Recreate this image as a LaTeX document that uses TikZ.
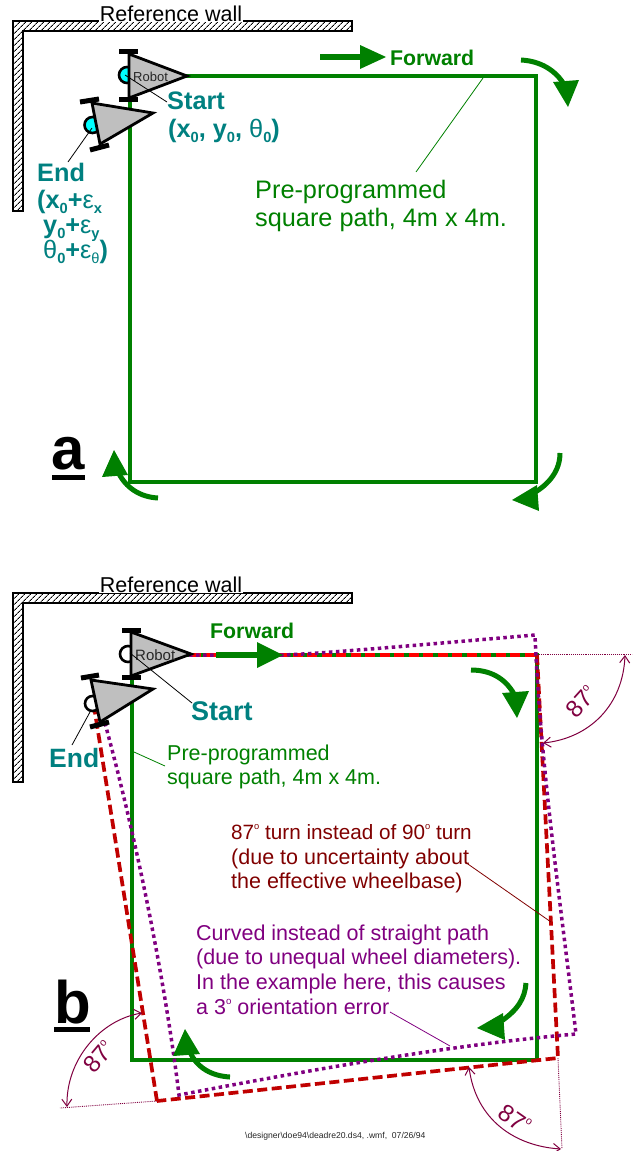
\documentclass[tikz,border=0pt]{standalone}
\usepackage{fontspec}
\setmainfont{Liberation Sans}
\usetikzlibrary{patterns,patterns.meta,arrows.meta}
\definecolor{pgreen}{HTML}{008000}
\definecolor{pteal}{HTML}{008080}
\definecolor{pcyan}{HTML}{00FFFF}
\definecolor{pmaroon}{HTML}{800000}
\definecolor{ppurple}{HTML}{800080}
\definecolor{pred}{HTML}{C00000}
\definecolor{pbright}{HTML}{FF0000}
\definecolor{parc}{HTML}{800040}
\newcommand{\lo}[1]{\raisebox{-.22em}{\scalebox{.58}{#1}}}
\newcommand{\hi}[1]{\raisebox{.45em}{\scalebox{.45}{#1}}}
\tikzset{
  wall/.style={draw=black,line width=1.2pt,pattern={Lines[angle=45,distance=4pt,line width=1pt]}},
  walllabel/.style={fill=white,inner xsep=1pt,inner ysep=1pt,font=\fontsize{21.5}{24}\selectfont,anchor=base},
  path/.style={draw=pgreen,line width=3.3pt,line join=miter},
  fwdhead/.style={fill=pgreen,draw=none},
  fwdshaft/.style={draw=pgreen,line width=5.5pt},
  turn/.style={draw=pgreen,line width=5pt},
  body/.style={draw=black,line width=2.8pt,fill=black!25,line join=miter},
  wheel/.style={draw=black,line width=5pt},
  cast/.style={draw=black,line width=2.6pt},
  leader/.style={draw=black,line width=.8pt},
  txt/.style={anchor=base west,inner sep=0pt,align=left},
  big/.style={font=\fontsize{25.3}{28}\selectfont},
  mid/.style={font=\fontsize{21.5}{24}\selectfont},
  fwd/.style={txt,text=pgreen,font=\bfseries\fontsize{21.3}{24}\selectfont},
  tealb/.style={txt,text=pteal,font=\bfseries\fontsize{25.3}{28}\selectfont},
  letter/.style={txt,font=\bfseries\fontsize{60}{60}\selectfont},
  ul/.style={draw=black,line width=5pt},
  reddash/.style={draw=pred,line width=3.7pt,dash pattern=on 10pt off 4.5pt,line join=miter},
  redtop/.style={draw=pbright,line width=3.5pt,dash pattern=on 10pt off 4.5pt},
  purpledot/.style={draw=ppurple,line width=3.5pt,dash pattern=on 3.5pt off 3.5pt},
  thinline/.style={draw=parc,line width=.9pt,densely dotted},
  anglearc/.style={draw=parc,line width=1pt,{Straight Barb[length=7pt,width=10pt]}-{Straight Barb[length=7pt,width=10pt]}},
  angletxt/.style={text=parc,inner sep=0pt,font=\fontsize{24}{26}\selectfont},
}
\begin{document}
\begin{tikzpicture}[x=1pt,y=-1pt]
\useasboundingbox (0,0) rectangle (632,1151);
% ---------- panel a
\path[wall] (13,21) -- (352,21) -- (352,31) -- (23,31) -- (23,211) -- (13,211) -- cycle;
\node[walllabel] (wallA) at (171,21) {Reference wall};
\coordinate (a1) at (130,76); \coordinate (a2) at (536,76);
\coordinate (a3) at (536,482); \coordinate (a4) at (130,482);
\draw[path] (a1) -- (a2) -- (a3) -- (a4) -- cycle;
\draw[fwdshaft] (320,57) -- (362,57);
\fill[fwdhead] (360,45) -- (386,57) -- (360,69) -- cycle;
\node[fwd] (fwdA) at (390,65) {Forward};
\coordinate (pgA) at (483,78); \coordinate (pgB) at (416,172);
\draw[draw=pgreen,line width=.8pt] (pgA) -- (pgB);
\node[txt,big,text=pgreen] (pgtextA) at (255,198) {Pre-programmed};
\node[txt,big,text=pgreen] (pgtextB) at (255,226) {square path, 4m x 4m.};
\draw[turn] (521,60) .. controls (540,61) and (556,70) .. (565,86);
\fill[fwdhead] (553,82) -- (579,80) -- (568,107) -- cycle;
\draw[turn] (560,453) .. controls (560,470) and (550,484) .. (532,494);
\fill[fwdhead] (512,500) -- (537,485) -- (539,511) -- cycle;
\draw[turn] (158,498) .. controls (140,497) and (126,488) .. (118,472);
\fill[fwdhead] (102,477) -- (128,475) -- (114,450) -- cycle;
% robots a
\draw[cast,fill=pcyan] (127,75) circle (8);
\draw[body] (129,54) -- (187,76) -- (129,98) -- cycle;
\draw[wheel] (119,51) -- (138,51);
\draw[wheel] (119,99) -- (138,99);
\node[txt,font=\fontsize{13}{15}\selectfont,text=black!85] (robA) at (133,81) {Robot};
\draw[cast,fill=pcyan] (92.5,125) circle (8);
\draw[body] (92,103) -- (153,113) -- (100,144) -- cycle;
\draw[wheel] (80,102) -- (99,99);
\draw[wheel] (90,150) -- (109,145);
\coordinate (sa) at (125,75); \coordinate (sb) at (167,102);
\draw[leader] (sa) -- (sb);
\coordinate (ea) at (92,128); \coordinate (eb) at (68,162);
\draw[leader] (ea) -- (eb);
\node[tealb] (startA) at (167,109) {Start};
\node[tealb] (coordA) at (168,137) {(x\lo{0}, y\lo{0}, {\mdseries θ}\lo{0})};
\node[tealb] (endA) at (37,181) {End};
\node[tealb] (e1) at (37,208) {(x\lo{0}+{\mdseries ε}\lo{x}};
\node[tealb] (e2) at (43,233) {y\lo{0}+{\mdseries ε}\lo{y}};
\node[tealb] (e3) at (43,258) {{\mdseries θ}\lo{0}+{\mdseries ε}\lo{{\mdseries θ}})};
\node[letter] (la) at (51,469) {a};
\coordinate (ula) at (52,477); \coordinate (ulb) at (85,477);
\draw[ul] (ula) -- (ulb);
% ---------- panel b
\path[wall] (13,593) -- (352,593) -- (352,603) -- (23,603) -- (23,782) -- (13,782) -- cycle;
\node[walllabel] (wallB) at (171,592) {Reference wall};
\coordinate (b1) at (132,655); \coordinate (b2) at (537,655);
\coordinate (b3) at (537,1060); \coordinate (b4) at (132,1060);
\draw[path] (b1) -- (b2) -- (b3) -- (b4) -- cycle;
% angle guides
\coordinate (c1) at (537,654); \coordinate (c2) at (632,654);
\coordinate (c3) at (558,1058); \coordinate (c4) at (562,1149);
\coordinate (c5) at (157,1101); \coordinate (c6) at (60,1108);
\draw[thinline] (c1) -- (c2);
\draw[thinline] (c3) -- (c4);
\draw[thinline] (c5) -- (c6);
% red and purple paths
\draw[reddash] (157,1101) -- (93,700);
\draw[reddash] (537,655) -- (558,1058) -- (157,1101);
\draw[redtop] (133,655) -- (537,655);
\draw[purpledot] (133,655) -- (284,655) .. controls (330,653) and (430,644) .. (535,635)
  .. controls (540,760) and (560,900) .. (576,1034)
  .. controls (450,1045) and (310,1070) .. (179,1095)
  .. controls (165,980) and (135,830) .. (100,705);
% forward b
\draw[fwdshaft] (216,655) -- (258,655);
\fill[fwdhead] (257,642) -- (283,655) -- (257,668) -- cycle;
\node[fwd] (fwdB) at (210,638) {Forward};
% turn arrows b
\draw[turn] (471,670) .. controls (490,670) and (505,678) .. (514,694);
\fill[fwdhead] (502,693) -- (529,691) -- (517,718) -- cycle;
\draw[turn] (526,983) .. controls (525,998) and (518,1010) .. (500,1022);
\fill[fwdhead] (477,1028) -- (503,1013) -- (505,1040) -- cycle;
\draw[turn] (230,1077) .. controls (212,1076) and (197,1068) .. (190,1052);
\fill[fwdhead] (173,1056) -- (200,1054) -- (185,1029) -- cycle;
% robots b
\draw[cast,fill=white] (128,654) circle (8);
\draw[body] (131,632) -- (191,654) -- (131,676) -- cycle;
\draw[wheel] (122,630) -- (141,630);
\draw[wheel] (122,677) -- (141,677);
\node[txt,font=\fontsize{15}{17}\selectfont,text=black!85] (robB) at (135,660) {Robot};
\draw[cast,fill=white] (92.5,703.5) circle (7.5);
\draw[body] (91,680) -- (153,689) -- (100,722) -- cycle;
\draw[wheel] (81,678) -- (99,675);
\draw[wheel] (90,727) -- (109,722);
\coordinate (sc) at (130,653); \coordinate (sd) at (192,703);
\draw[leader] (sc) -- (sd);
\coordinate (ec) at (90,712); \coordinate (ed) at (72,745);
\draw[leader] (ec) -- (ed);
\node[tealb,font=\bfseries\fontsize{27}{30}\selectfont] (startB) at (191,720) {Start};
\node[tealb,font=\bfseries\fontsize{26.5}{30}\selectfont] (endB) at (49,767) {End};
\coordinate (gc) at (134,752); \coordinate (gd) at (165,766);
\draw[draw=pgreen,line width=.8pt] (gc) -- (gd);
\node[txt,mid,text=pgreen] (pgB1) at (167,760) {Pre-programmed};
\node[txt,mid,text=pgreen] (pgB2) at (167,784) {square path, 4m x 4m.};
\node[txt,font=\fontsize{20.7}{24}\selectfont,text=pmaroon] (m1) at (231,839) {87\hi{o} turn instead of 90\hi{o} turn};
\node[txt,mid,text=pmaroon] (m2) at (231,864) {(due to uncertainty about};
\node[txt,mid,text=pmaroon] (m3) at (231,888) {the effective wheelbase)};
\coordinate (ma) at (465,862); \coordinate (mb) at (551,922);
\draw[draw=pmaroon,line width=.8pt] (ma) -- (mb);
\node[txt,mid,text=ppurple] (p1) at (196,940) {Curved instead of straight path};
\node[txt,mid,text=ppurple] (p2) at (196,964) {(due to unequal wheel diameters).};
\node[txt,mid,text=ppurple] (p3) at (196,989) {In the example here, this causes};
\node[txt,mid,text=ppurple] (p4) at (196,1014) {a 3\hi{o} orientation error};
\coordinate (pa) at (390,1012); \coordinate (pb) at (450,1046);
\draw[draw=ppurple,line width=.8pt] (pa) -- (pb);
\node[letter] (lb) at (54,1023) {b};
\coordinate (ulc) at (54,1029); \coordinate (uld) at (90,1029);
\draw[ul] (ulc) -- (uld);
% angle arcs
\coordinate (d1) at (625,655); \coordinate (d2) at (543,743);
\draw[anglearc] (d1) .. controls (623,705) and (590,738) .. (d2);
\node[angletxt,rotate=48] (t1) at (581,702) {87\hi{o}};
\coordinate (d3) at (142,1013); \coordinate (d4) at (67,1107);
\draw[anglearc] (d3) .. controls (100,1020) and (66,1060) .. (d4);
\node[angletxt,rotate=50] (t2) at (99,1057) {87\hi{o}};
\coordinate (d5) at (469,1067); \coordinate (d6) at (561,1149);
\draw[anglearc] (d5) .. controls (476,1120) and (515,1146) .. (d6);
\node[angletxt,rotate=-35] (t3) at (515,1119) {87\hi{o}};
\node[txt,font=\fontsize{8.6}{10}\selectfont,text=black!85] (foot) at (245,1138) {\textbackslash designer\textbackslash doe94\textbackslash deadre20.ds4, .wmf,\ \ 07/26/94};
\end{tikzpicture}
\end{document}
